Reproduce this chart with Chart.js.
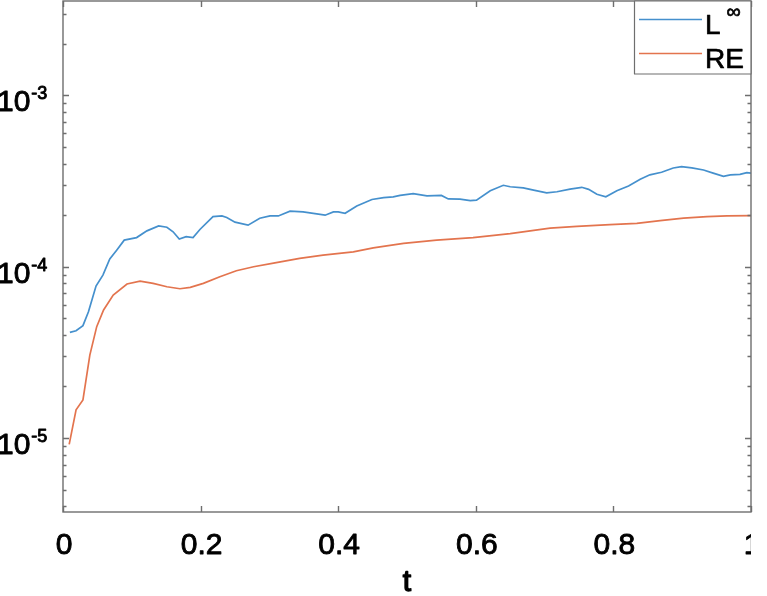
<!DOCTYPE html>
<html>
<head>
<meta charset="utf-8">
<title>L-inf and RE error vs t</title>
<script src="https://cdn.jsdelivr.net/npm/chart.js@4.4.1/dist/chart.umd.min.js"></script>
<style>
    html, body { margin: 0; padding: 0; background: #fff; }
    #wrap { position: relative; width: 767px; height: 596px; }
</style>
</head>
<body>
<div id="wrap"><canvas id="errChart" width="767" height="596"></canvas></div>
<script>
// time samples and values
const tInf = [0.010, 0.019, 0.029, 0.037, 0.048, 0.058, 0.068, 0.078, 0.089, 0.107,
    0.122, 0.139, 0.151, 0.160, 0.169, 0.179, 0.189, 0.199, 0.218, 0.231,
    0.238, 0.250, 0.269, 0.286, 0.301, 0.313, 0.330, 0.349, 0.381, 0.393,
    0.400, 0.410, 0.427, 0.449, 0.466, 0.480, 0.490, 0.509, 0.529, 0.550,
    0.560, 0.577, 0.592, 0.601, 0.621, 0.640, 0.650, 0.669, 0.684, 0.703,
    0.718, 0.737, 0.754, 0.764, 0.776, 0.789, 0.805, 0.822, 0.839, 0.853,
    0.870, 0.887, 0.899, 0.914, 0.931, 0.945, 0.960, 0.970, 0.984, 0.994, 1.000];
const lInfVals = [4.14e-5, 4.23e-5, 4.53e-5, 5.46e-5, 7.71e-5, 8.94e-5, 1.11e-4, 1.25e-4, 1.43e-4, 1.48e-4,
    1.62e-4, 1.73e-4, 1.70e-4, 1.60e-4, 1.45e-4, 1.50e-4, 1.48e-4, 1.65e-4, 1.96e-4, 1.98e-4,
    1.94e-4, 1.82e-4, 1.75e-4, 1.92e-4, 1.98e-4, 1.98e-4, 2.11e-4, 2.09e-4, 2.00e-4, 2.09e-4,
    2.09e-4, 2.05e-4, 2.26e-4, 2.47e-4, 2.53e-4, 2.56e-4, 2.61e-4, 2.67e-4, 2.59e-4, 2.61e-4,
    2.49e-4, 2.48e-4, 2.43e-4, 2.45e-4, 2.78e-4, 2.99e-4, 2.93e-4, 2.89e-4, 2.80e-4, 2.70e-4,
    2.74e-4, 2.84e-4, 2.91e-4, 2.83e-4, 2.65e-4, 2.56e-4, 2.78e-4, 2.96e-4, 3.24e-4, 3.44e-4,
    3.56e-4, 3.77e-4, 3.84e-4, 3.78e-4, 3.67e-4, 3.52e-4, 3.37e-4, 3.44e-4, 3.46e-4, 3.54e-4, 3.52e-4];

const tRE = [0.009, 0.019, 0.029, 0.039, 0.049, 0.059, 0.073, 0.093, 0.112, 0.131,
    0.151, 0.170, 0.185, 0.204, 0.228, 0.252, 0.277, 0.306, 0.344, 0.378,
    0.422, 0.451, 0.495, 0.543, 0.596, 0.650, 0.679, 0.708, 0.747, 0.795,
    0.834, 0.868, 0.902, 0.936, 0.965, 1.000];
const reVals = [9.19e-6, 1.46e-5, 1.67e-5, 3.05e-5, 4.47e-5, 5.59e-5, 6.84e-5, 7.93e-5, 8.25e-5, 8.00e-5,
    7.64e-5, 7.44e-5, 7.58e-5, 8.00e-5, 8.74e-5, 9.48e-5, 1.00e-4, 1.05e-4, 1.12e-4, 1.17e-4,
    1.22e-4, 1.29e-4, 1.37e-4, 1.43e-4, 1.48e-4, 1.56e-4, 1.62e-4, 1.68e-4, 1.72e-4, 1.76e-4,
    1.79e-4, 1.86e-4, 1.92e-4, 1.96e-4, 1.98e-4, 1.99e-4];

const xTicks = [0, 0.2, 0.4, 0.6, 0.8, 1];
const xTickLabels = ['0', '0.2', '0.4', '0.6', '0.8', '1'];
const yExponents = [-5, -4, -3];
const seriesNames = ['L', 'RE'];   // L gets a superscript infinity

const FONT = "'Liberation Sans', Arial, sans-serif";
const AXIS_COLOR = '#6e6e6e';

function toPoints(xs, ys) {
    return xs.map((x, i) => ({ x: x, y: ys[i] }));
}

// text a bit heavier than regular, like the exported figure
function heavyText(ctx, str, x, y) {
    ctx.fillText(str, x, y);
    ctx.strokeText(str, x, y);
}

/**
 * MATLAB style box, inward ticks, labels and legend
 */
const matlabAxes = {
    id: 'matlabAxes',
    afterDraw(chart) {
        const ctx = chart.ctx;
        const area = chart.chartArea;
        const xs = chart.scales.x;
        const ys = chart.scales.y;

        ctx.save();
        ctx.strokeStyle = AXIS_COLOR;
        ctx.lineWidth = 1.4;
        ctx.strokeRect(area.left, area.top, area.right - area.left, area.bottom - area.top);

        // x ticks bottom and top
        ctx.beginPath();
        xTicks.forEach(v => {
            const px = Math.round(xs.getPixelForValue(v)) + 0.5;
            ctx.moveTo(px, area.bottom);
            ctx.lineTo(px, area.bottom - 6);
            ctx.moveTo(px, area.top);
            ctx.lineTo(px, area.top + 6);
        });

        // y ticks, majors and minors on both sides
        for (let d = -6; d <= -2; d++) {
            for (let m = 1; m <= 9; m++) {
                const v = m * Math.pow(10, d);
                if (v < ys.min || v > ys.max) continue;
                const py = Math.round(ys.getPixelForValue(v)) + 0.5;
                const len = m === 1 ? 6 : 3.5;
                ctx.moveTo(area.left, py);
                ctx.lineTo(area.left + len, py);
                ctx.moveTo(area.right, py);
                ctx.lineTo(area.right - len, py);
            }
        }
        ctx.stroke();

        ctx.fillStyle = '#000';
        ctx.strokeStyle = '#000';
        ctx.lineWidth = 0.9;
        ctx.lineJoin = 'round';

        // x tick labels (the last one is cut at the axis edge as in the figure)
        ctx.font = '30px ' + FONT;
        ctx.textAlign = 'center';
        ctx.textBaseline = 'alphabetic';
        ctx.save();
        ctx.beginPath();
        ctx.rect(0, area.bottom, area.right, chart.height - area.bottom);
        ctx.clip();
        xTicks.forEach((v, i) => {
            heavyText(ctx, xTickLabels[i], xs.getPixelForValue(v) + 1, area.bottom + 42);
        });
        ctx.restore();

        // x axis title
        ctx.lineWidth = 1.4;
        heavyText(ctx, 't', (area.left + area.right) / 2, 591);
        ctx.lineWidth = 0.9;

        // y tick labels 10^n
        ctx.textAlign = 'left';
        yExponents.forEach(e => {
            const py = ys.getPixelForValue(Math.pow(10, e));
            ctx.font = '30px ' + FONT;
            heavyText(ctx, '10', -3, py + 16);
            const w = ctx.measureText('10').width;
            ctx.font = '18px ' + FONT;
            heavyText(ctx, String(e), -2 + w, py + 4);
        });

        // legend
        const lx = 634, ly = area.top, lw = area.right - 634, lh = 73;
        ctx.fillStyle = '#fff';
        ctx.fillRect(lx, ly, lw, lh);
        ctx.strokeStyle = AXIS_COLOR;
        ctx.lineWidth = 1.2;
        ctx.strokeRect(lx + 0.5, ly, lw - 0.5, lh);
        const rows = [19.5, 53.5];
        chart.data.datasets.forEach((ds, i) => {
            ctx.strokeStyle = ds.borderColor;
            ctx.lineWidth = ds.borderWidth;
            ctx.beginPath();
            ctx.moveTo(639, rows[i]);
            ctx.lineTo(702, rows[i]);
            ctx.stroke();
            ctx.fillStyle = '#000';
            ctx.strokeStyle = '#000';
            ctx.lineWidth = 0.7;
            ctx.font = '28px ' + FONT;
            heavyText(ctx, seriesNames[i], 705, rows[i] + 14);
            if (i === 0) {
                const w = ctx.measureText(seriesNames[i]).width;
                ctx.font = '20px ' + FONT;
                heavyText(ctx, '\u221E', 705 + w + 6, rows[i] - 2);
            }
        });
        ctx.restore();
    }
};

new Chart(document.getElementById('errChart'), {
    type: 'line',
    data: {
        datasets: [{
            label: 'L\u221E',
            data: toPoints(tInf, lInfVals),
            borderColor: '#4590cd',
            borderWidth: 1.7,
            pointRadius: 0,
            tension: 0,
            fill: false
        }, {
            label: 'RE',
            data: toPoints(tRE, reVals),
            borderColor: '#e3744e',
            borderWidth: 1.7,
            pointRadius: 0,
            tension: 0,
            fill: false
        }]
    },
    options: {
        responsive: false,
        animation: false,
        layout: {
            padding: { left: 63, top: 1, right: 16, bottom: 84 }
        },
        plugins: {
            legend: { display: false },
            tooltip: { enabled: false }
        },
        scales: {
            x: { type: 'linear', min: 0, max: 1, display: false },
            y: { type: 'logarithmic', min: 3.7e-6, max: 3.56e-3, display: false }
        }
    },
    plugins: [matlabAxes]
});
</script>
</body>
</html>
